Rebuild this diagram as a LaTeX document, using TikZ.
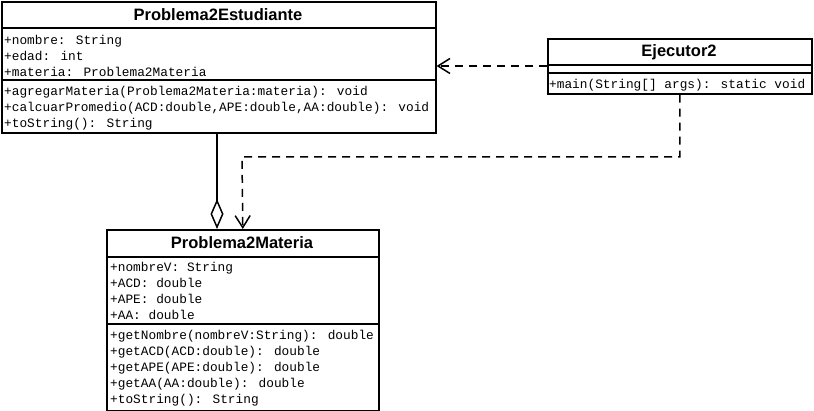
\documentclass[tikz,border=0pt]{standalone}
\usepackage{fontspec}
\setmainfont{Liberation Sans}
\newfontfamily\umlmono{Liberation Mono}
\usetikzlibrary{arrows.meta,positioning,calc}
\colorlet{UMLLine}{black}

\begin{document}
\begin{tikzpicture}[x=1pt,y=-1pt,
      umlbox/.style={draw=UMLLine,line width=1.6pt,fill=white,anchor=north west,inner sep=0pt},
      umlsep/.style={draw=UMLLine,line width=1.6pt},
      title/.style={anchor=base,inner sep=0pt,font=\bfseries\fontsize{16.5}{19}\selectfont},
      member/.style={anchor=base west,inner sep=0pt,
        font=\umlmono\fontsize{12.8}{16}\selectfont},
      dep/.style={line width=1.5pt,dash pattern=on 8pt off 6pt,
        -{Straight Barb[length=12pt,width=15pt,line width=1.5pt]}},
      agg/.style={line width=1.5pt,
        -{Diamond[open,length=30pt,width=13pt,line width=1.5pt]}}]

    \useasboundingbox (0,0) rectangle (814,411);
    \fill[white] (0,0) rectangle (814,411);

    % Clase del estudiante.
    \node[umlbox,minimum width=434pt,minimum height=131pt] (estu) at (1,1) {};
    \node[title] (estuT) at (218,21) {Problema2Estudiante};
    \draw[umlsep] (1,28) -- (435,28);
    \draw[umlsep] (1,80) -- (435,80);
    \node[member] (estuA1) at (4,45) {+nombre: String};
    \node[member] (estuA2) at (4,61) {+edad: int};
    \node[member] (estuA3) at (4,77) {+materia: Problema2Materia};
    \node[member] (estuM1) at (4,96) {+agregarMateria(Problema2Materia:materia): void};
    \node[member] (estuM2) at (4,112) {+calcuarPromedio(ACD:double,APE:double,AA:double): void};
    \node[member] (estuM3) at (4,128) {+toString(): String};

    % Clase ejecutora.
    \node[umlbox,minimum width=264pt,minimum height=55pt] (ejec) at (547,38) {};
    \node[title] (ejecT) at (679,57) {Ejecutor2};
    \draw[umlsep] (547,65) -- (811,65);
    \draw[umlsep] (547,73) -- (811,73);
    \node[member] (ejecM1) at (549,89) {+main(String[] args): static void};

    % Clase de la materia.
    \node[umlbox,minimum width=272pt,minimum height=181pt] (mat) at (106,229) {};
    \node[title] (matT) at (242,249) {Problema2Materia};
    \draw[umlsep] (106,257) -- (378,257);
    \draw[umlsep] (106,324) -- (378,324);
    \node[member] (matA1) at (110,272) {+nombreV: String};
    \node[member] (matA2) at (110,288) {+ACD: double};
    \node[member] (matA3) at (110,304) {+APE: double};
    \node[member] (matA4) at (110,320) {+AA: double};
    \node[member] (matM1) at (110,340) {+getNombre(nombreV:String): double};
    \node[member] (matM2) at (110,356) {+getACD(ACD:double): double};
    \node[member] (matM3) at (110,372) {+getAPE(APE:double): double};
    \node[member] (matM4) at (110,388) {+getAA(AA:double): double};
    \node[member] (matM5) at (110,404) {+toString(): String};

    % Relaciones.
    \draw[dep] (ejec.west |- 0,66) -- (estu.east |- 0,66);
    \coordinate (bend) at (242,157);
    \draw[dep] (ejec.south) |- (bend) -- (mat.north);
    \draw[agg] (estu.south -| 217,0) -- (mat.north -| 217,0);
  \end{tikzpicture}
\end{document}
